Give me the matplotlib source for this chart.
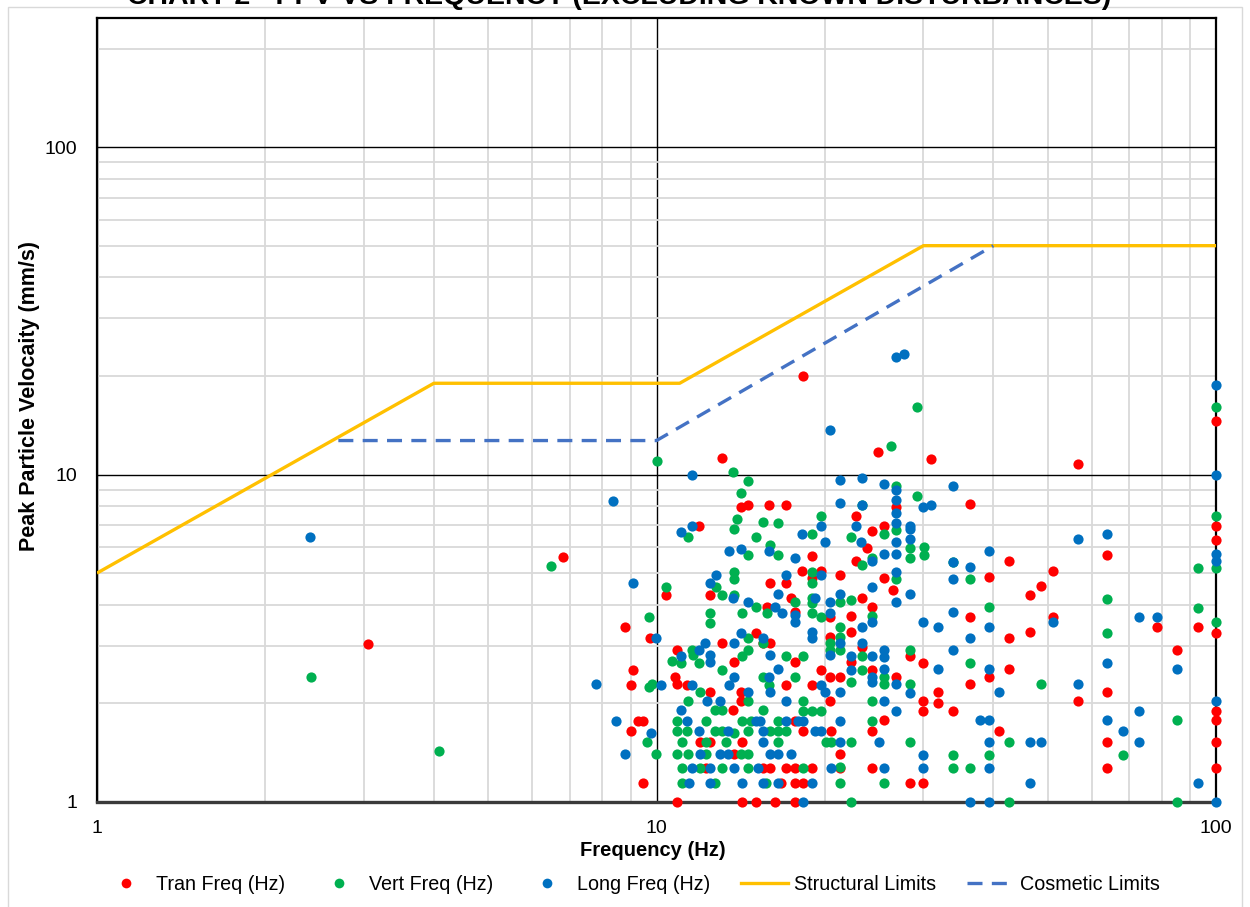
"""PPV vs frequency chart (chart 2), log-log scatter with limit curves
"""

import matplotlib
matplotlib.use("Agg")
import matplotlib.pyplot as plt
from matplotlib.lines import Line2D
from matplotlib.patches import Rectangle
from matplotlib.ticker import FixedLocator, FixedFormatter, NullFormatter

plt.rcParams['font.family'] = ['Liberation Sans', 'DejaVu Sans']

# (frequency Hz, ppv mm/s)
tran = [(3.05, 3.04), (6.81, 5.6), (10.4, 4.29), (11.9, 6.96), (12.46, 4.3), (14.18, 7.98),
        (14.58, 8.09), (15.87, 8.09), (17.06, 8.09), (18.95, 5.64), (22.7, 7.47), (24.3, 6.71),
        (25.5, 6.96), (23.8, 5.95), (22.7, 5.46), (15.97, 4.68), (17.06, 4.68), (18.22, 5.07),
        (19.68, 5.07), (18.95, 4.82), (21.28, 4.93), (25.5, 4.82), (26.47, 4.44), (17.36, 4.19),
        (23.27, 4.19), (26.8, 7.98), (18.25, 20.0), (24.9, 11.7), (13.08, 11.26), (30.9, 11.15),
        (36.3, 8.13), (42.6, 5.44), (51.1, 5.07), (48.7, 4.57), (46.5, 4.3), (63.9, 5.69),
        (100, 6.96), (100, 6.31), (39.3, 4.87), (36.3, 3.68), (42.6, 3.17), (46.5, 3.3),
        (51.1, 3.68), (78.3, 3.42), (92.9, 3.42), (100, 3.29), (28.35, 2.79), (30.0, 2.66),
        (42.6, 2.54), (39.3, 2.40), (26.8, 2.41), (36.3, 2.29), (56.7, 2.03), (63.9, 2.16),
        (85.1, 2.91), (31.9, 2.16), (30.0, 2.03), (30.0, 1.90), (31.9, 2.0), (33.9, 1.90),
        (25.5, 1.78), (40.9, 1.65), (100, 1.90), (100, 1.78), (100, 1.52), (100, 1.27),
        (63.9, 1.52), (63.9, 1.27), (28.35, 1.14), (30.0, 1.14), (100, 14.6), (56.7, 10.8),
        (8.78, 3.42), (9.74, 3.16), (9.07, 2.53), (8.99, 2.28), (15.74, 3.95), (15.06, 3.29),
        (15.5, 3.05), (13.08, 3.05), (13.76, 2.68), (10.9, 2.91), (10.79, 2.40), (10.9, 2.30),
        (11.34, 2.28), (12.46, 2.16), (14.18, 2.17), (14.18, 2.04), (17.68, 3.81), (20.45, 3.66),
        (22.27, 3.7), (24.3, 3.95), (22.27, 3.31), (20.45, 3.19), (15.97, 3.05), (17.68, 2.68),
        (22.27, 2.68), (23.27, 2.98), (19.68, 2.53), (20.45, 2.40), (21.28, 2.40), (17.06, 2.28),
        (18.98, 2.28), (24.3, 2.53), (20.45, 2.04), (9.28, 1.77), (9.47, 1.77), (8.99, 1.65),
        (9.47, 1.14), (10.9, 1.0), (14.2, 1.0), (15.06, 1.0), (13.7, 1.91), (11.96, 1.52),
        (12.46, 1.52), (14.2, 1.52), (13.76, 1.40), (12.26, 1.27), (15.5, 1.27), (17.68, 1.77),
        (18.25, 1.65), (20.5, 1.65), (24.3, 1.65), (21.28, 1.40), (15.97, 1.27), (17.06, 1.27),
        (17.68, 1.27), (18.98, 1.27), (21.28, 1.27), (24.3, 1.27), (16.7, 1.14), (17.68, 1.14),
        (18.25, 1.14), (16.29, 1.0), (17.68, 1.0)]

vert = [(2.41, 2.41), (4.09, 1.43), (6.48, 5.26), (10.4, 4.55), (11.38, 6.43), (12.8, 4.55),
        (13.1, 4.3), (13.75, 4.3), (13.75, 5.05), (13.75, 4.79), (14.58, 5.68), (13.75, 6.82),
        (13.95, 7.33), (14.18, 8.8), (15.06, 6.46), (15.49, 7.18), (16.47, 7.1), (15.97, 6.09),
        (16.47, 5.68), (18.98, 6.58), (19.68, 7.47), (23.27, 8.05), (22.27, 6.46), (25.5, 6.58),
        (24.3, 5.56), (23.27, 5.3), (26.8, 6.77), (28.35, 5.95), (28.35, 5.55), (30.1, 6.02),
        (30.1, 5.68), (29.2, 8.6), (18.98, 5.05), (18.98, 4.68), (26.8, 4.79), (17.68, 4.09),
        (18.98, 4.19), (21.28, 4.09), (22.27, 4.14), (26.2, 12.2), (10.0, 11.0), (13.7, 10.2),
        (14.58, 9.57), (26.8, 9.24), (29.2, 16.1), (33.9, 5.4), (36.3, 4.81), (39.3, 3.93),
        (63.9, 4.17), (63.9, 3.29), (92.9, 3.92), (100, 3.55), (92.9, 5.17), (100, 7.47),
        (100, 5.17), (28.35, 2.91), (36.3, 2.66), (25.5, 2.41), (25.5, 2.29), (28.35, 2.29),
        (48.7, 2.29), (85.1, 1.78), (28.35, 1.52), (42.6, 1.52), (68.1, 1.39), (33.9, 1.39),
        (39.3, 1.39), (33.9, 1.27), (36.3, 1.27), (25.5, 1.14), (42.6, 1.0), (85.1, 1.0),
        (9.68, 3.68), (9.68, 2.24), (9.8, 2.30), (12.46, 3.78), (12.46, 3.53), (14.2, 3.78),
        (15.06, 3.93), (15.74, 3.78), (14.58, 3.16), (15.5, 3.05), (14.6, 2.91), (14.2, 2.79),
        (11.56, 2.91), (11.6, 2.81), (10.66, 2.70), (11.08, 2.65), (11.9, 2.65), (13.1, 2.53),
        (11.96, 2.16), (11.39, 2.04), (14.58, 2.04), (15.5, 2.40), (15.87, 2.28), (18.98, 4.05),
        (18.98, 3.77), (19.68, 3.66), (24.3, 3.7), (21.28, 3.43), (21.28, 3.19), (20.45, 3.05),
        (20.45, 2.91), (21.28, 2.91), (17.06, 2.79), (18.25, 2.79), (23.27, 2.79), (23.27, 2.53),
        (17.68, 2.40), (22.27, 2.33), (18.25, 2.04), (24.3, 2.04), (9.6, 1.52), (9.98, 1.40),
        (12.7, 1.91), (13.1, 1.91), (15.5, 1.91), (10.9, 1.77), (12.26, 1.77), (14.2, 1.77),
        (14.76, 1.77), (10.9, 1.65), (11.34, 1.65), (12.7, 1.65), (13.1, 1.65), (13.74, 1.62),
        (14.6, 1.65), (11.1, 1.52), (12.26, 1.52), (13.3, 1.52), (10.9, 1.40), (11.39, 1.40),
        (12.26, 1.40), (14.13, 1.40), (14.6, 1.40), (11.1, 1.27), (11.96, 1.27), (13.1, 1.27),
        (14.6, 1.27), (11.1, 1.14), (12.7, 1.14), (18.25, 1.90), (18.98, 1.90), (19.68, 1.90),
        (16.5, 1.77), (24.3, 1.77), (15.97, 1.65), (16.5, 1.65), (17.06, 1.65), (16.5, 1.52),
        (20.07, 1.52), (20.5, 1.52), (22.27, 1.52), (18.25, 1.27), (21.28, 1.28), (15.7, 1.14),
        (21.28, 1.14), (22.27, 1.0), (100, 16.1)]

long_ = [(2.40, 6.45), (8.35, 8.32), (9.07, 4.65), (11.08, 6.69), (11.57, 6.96), (12.46, 4.65),
         (12.77, 4.93), (13.7, 4.19), (13.46, 5.83), (14.18, 5.94), (15.87, 5.83), (14.58, 4.09),
         (17.68, 5.56), (18.22, 6.58), (19.68, 6.96), (20.01, 6.21), (21.28, 8.2), (23.27, 8.1),
         (22.73, 6.96), (23.2, 6.21), (24.3, 5.46), (25.5, 5.72), (26.8, 5.72), (26.8, 6.21),
         (26.8, 7.1), (26.8, 7.61), (26.8, 8.36), (26.8, 8.97), (28.35, 6.96), (28.35, 6.8),
         (28.35, 6.34), (30.0, 7.94), (30.9, 8.09), (17.06, 4.93), (19.68, 4.93), (26.8, 5.05),
         (24.3, 4.55), (28.35, 4.31), (16.47, 4.31), (19.2, 4.19), (20.45, 4.09), (21.28, 4.31),
         (26.8, 4.09), (20.45, 13.7), (26.75, 22.9), (27.7, 23.3), (11.57, 10.0), (21.28, 9.62),
         (23.27, 9.77), (25.5, 9.37), (33.9, 9.22), (33.9, 5.42), (36.3, 5.21), (39.3, 5.84),
         (56.7, 6.35), (63.9, 6.58), (100, 5.72), (100, 5.46), (33.9, 4.81), (33.9, 3.8),
         (30.0, 3.55), (31.9, 3.43), (39.3, 3.43), (36.3, 3.17), (51.1, 3.55), (72.9, 3.68),
         (78.3, 3.68), (25.5, 2.91), (25.5, 2.78), (33.9, 2.91), (39.3, 2.54), (31.9, 2.54),
         (25.5, 2.54), (26.8, 2.29), (28.35, 2.15), (56.7, 2.29), (63.9, 2.66), (85.1, 2.54),
         (40.9, 2.16), (25.5, 2.03), (26.8, 1.90), (37.8, 1.78), (39.3, 1.78), (63.9, 1.78),
         (68.1, 1.65), (72.9, 1.90), (100, 2.03), (100, 1.0), (25.0, 1.52), (39.3, 1.52),
         (46.5, 1.52), (48.7, 1.52), (72.9, 1.52), (30.0, 1.39), (25.5, 1.27), (30.0, 1.27),
         (39.3, 1.27), (46.5, 1.14), (92.9, 1.14), (36.3, 1.0), (39.3, 1.0), (100, 18.8),
         (100, 10.0), (7.8, 2.29), (9.98, 3.16), (10.19, 2.28), (14.18, 3.29), (15.49, 3.16),
         (12.19, 3.05), (11.93, 2.91), (12.46, 2.81), (12.46, 2.68), (13.76, 3.05), (11.08, 2.79),
         (11.57, 2.28), (13.76, 2.40), (13.49, 2.28), (12.3, 2.04), (13.0, 2.04), (14.58, 2.16),
         (15.87, 2.40), (16.29, 3.95), (16.78, 3.78), (17.68, 3.72), (17.68, 3.55), (20.45, 3.78),
         (24.3, 3.55), (18.98, 3.31), (18.98, 3.16), (23.27, 3.43), (21.28, 3.05), (15.97, 2.81),
         (20.45, 2.81), (22.27, 2.79), (22.27, 2.53), (23.27, 3.05), (24.3, 2.79), (16.47, 2.54),
         (19.68, 2.28), (20.0, 2.16), (21.28, 2.16), (24.3, 2.40), (24.3, 2.33), (15.97, 2.16),
         (17.06, 2.04), (8.47, 1.77), (9.76, 1.62), (8.78, 1.40), (11.08, 1.91), (11.34, 1.77),
         (15.06, 1.77), (15.3, 1.77), (11.9, 1.65), (13.4, 1.65), (15.5, 1.65), (15.5, 1.52),
         (11.96, 1.40), (13.0, 1.40), (13.4, 1.40), (11.56, 1.27), (12.46, 1.27), (13.76, 1.27),
         (15.2, 1.27), (11.45, 1.14), (12.46, 1.14), (14.2, 1.14), (15.5, 1.14), (17.06, 1.77),
         (17.9, 1.77), (18.25, 1.77), (21.28, 1.77), (19.2, 1.65), (19.68, 1.65), (21.28, 1.52),
         (15.97, 1.40), (16.5, 1.40), (17.36, 1.40), (20.5, 1.27), (16.5, 1.14), (18.98, 1.14),
         (18.25, 1.0)]

# limit curves
structural_hz = [1, 4, 11, 30, 100]
structural_ppv = [5, 19, 19, 50, 50]
cosmetic_hz = [2.7, 10, 40]
cosmetic_ppv = [12.7, 12.7, 50]

red, green, blue = '#FF0000', '#00B050', '#0070C0'
yellow, dblue = '#FFC000', '#4472C4'

fig = plt.figure(figsize=(12.5, 9.07), dpi=100)
# light chart-area border
fig.patches.append(Rectangle((8/1250, -0.01), 1234/1250, 1 - 7/907 + 0.01,
                             transform=fig.transFigure, fill=False,
                             edgecolor='#D9D9D9', lw=1))
ax = fig.add_axes([0.0776, 0.1158, 0.8952, 0.8644])
ax.set_xscale('log')
ax.set_yscale('log')

for pts, col in [(tran, red), (vert, green), (long_, blue)]:
    hz, ppv = zip(*pts)
    ax.scatter(hz, ppv, s=54, color=col, linewidths=0, zorder=3, clip_on=False)

ax.plot(structural_hz, structural_ppv, color=yellow, lw=2.4, zorder=4,
        solid_capstyle='butt')
ax.plot(cosmetic_hz, cosmetic_ppv, color=dblue, lw=2.4, zorder=4,
        ls=(0, (4.5, 2.8)))

ax.set_xlim(1, 100)
ax.set_ylim(1, 248)

ax.xaxis.set_major_locator(FixedLocator([1, 10, 100]))
ax.xaxis.set_major_formatter(FixedFormatter(['1', '10', '100']))
ax.yaxis.set_major_locator(FixedLocator([1, 10, 100]))
ax.yaxis.set_major_formatter(FixedFormatter(['1', '10', '100']))
ax.xaxis.set_minor_formatter(NullFormatter())
ax.yaxis.set_minor_formatter(NullFormatter())
ax.tick_params(which='both', length=0)
ax.tick_params(axis='x', pad=13, labelsize=14)
ax.tick_params(axis='y', pad=14, labelsize=14)

ax.grid(which='minor', color='#D9D9D9', lw=1.3)
ax.grid(which='major', color='black', lw=1.0)
ax.set_axisbelow(True)
for side in ['top', 'left', 'right']:
    ax.spines[side].set_linewidth(1.6)
    ax.spines[side].set_color('black')
ax.spines['bottom'].set_linewidth(2.4)
ax.spines['bottom'].set_color('#3a3a3a')

fig.text(0.4955, 1 - 4/907, 'CHART 2 - PPV VS FREQUENCY (EXCLUDING KNOWN DISTURBANCES)',
         ha='center', va='baseline', fontsize=20.5, fontweight='bold')
fig.text(0.522, 1 - 850/907, 'Frequency (Hz)', ha='center', va='center',
         fontsize=14.5, fontweight='bold')
fig.text(30/1250, 1 - 396/907, 'Peak Particle Velocaity (mm/s)', ha='center',
         va='center', rotation=90, fontsize=15.5, fontweight='bold')

handles = [Line2D([], [], marker='o', ls='', color=red, markersize=7, markeredgewidth=0),
           Line2D([], [], marker='o', ls='', color=green, markersize=7, markeredgewidth=0),
           Line2D([], [], marker='o', ls='', color=blue, markersize=7, markeredgewidth=0),
           Line2D([], [], color=yellow, lw=2.4),
           Line2D([], [], color=dblue, lw=2.4, ls=(0, (4.5, 2.8)))]
labels = ['Tran Freq (Hz)', 'Vert Freq (Hz)', 'Long Freq (Hz)',
          'Structural Limits', 'Cosmetic Limits']
fig.legend(handles, labels, loc='center', bbox_to_anchor=(0.505, 1 - 884/907),
           ncol=5, frameon=False, fontsize=14.2, handlelength=2.4,
           handletextpad=0.3, columnspacing=1.55, numpoints=1)

plt.savefig('out.png', dpi=100)
